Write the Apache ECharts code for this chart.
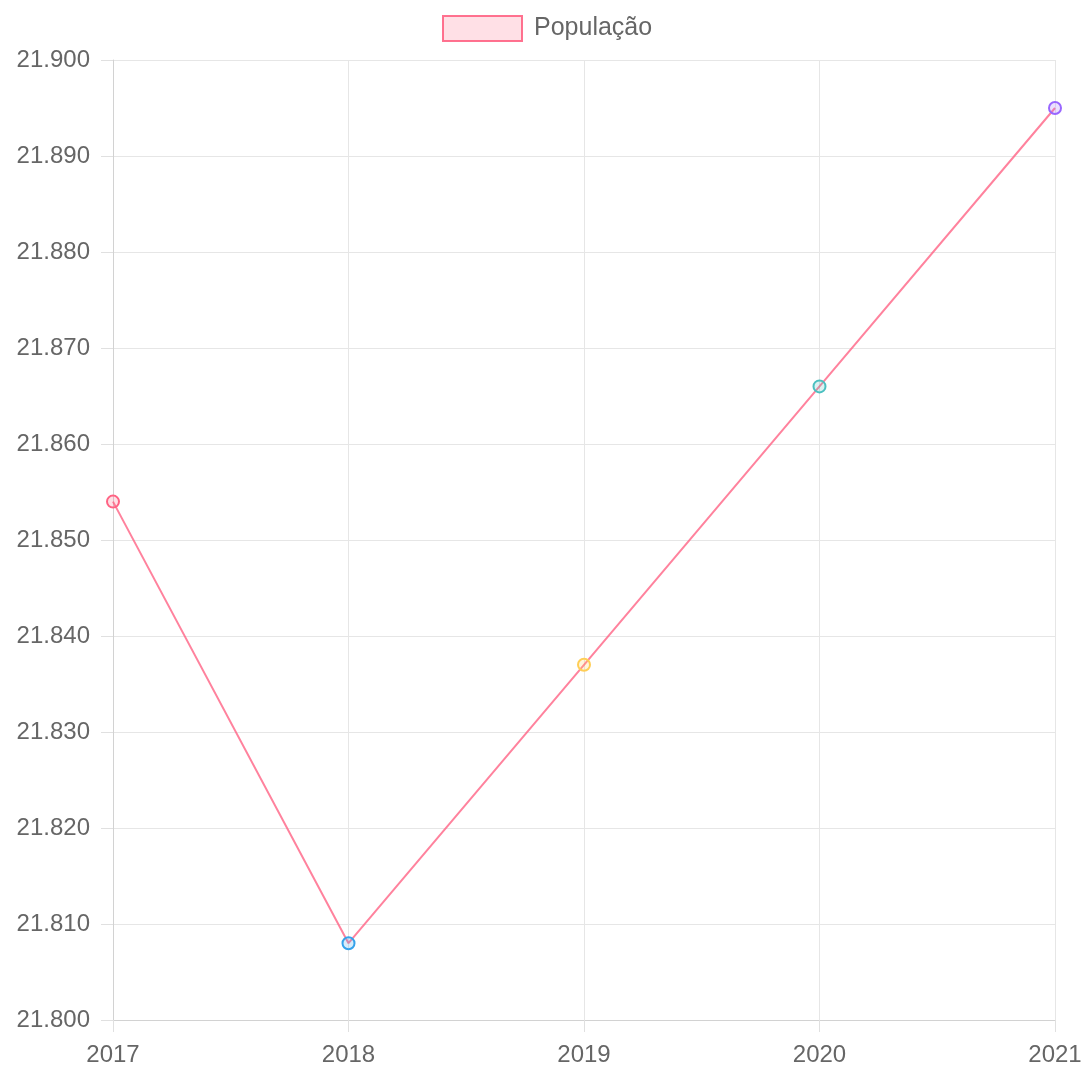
<!DOCTYPE html>
<html>
<head>
<meta charset="utf-8">
<script src="https://cdn.jsdelivr.net/npm/echarts@6/dist/echarts.min.js"></script>
<style>
html,body{margin:0;padding:0;background:#fff;}
#chart{width:1089px;height:1073px;}
</style>
</head>
<body>
<div id="chart"></div>
<script>
const categories = ['2017', '2018', '2019', '2020', '2021'];
const populacao = [21854, 21808, 21837, 21866, 21895];
const pointColors = ['255,99,132', '54,162,235', '255,206,86', '75,192,192', '153,102,255'];
const seriesName = 'População';

function fmt(v) {
  return String(Math.round(v)).replace(/\B(?=(\d{3})+(?!\d))/g, '.');
}

const chart = echarts.init(document.getElementById('chart'));
chart.setOption({
  animation: false,
  textStyle: { fontFamily: 'Liberation Sans, Arial, sans-serif' },
  legend: {
    top: 10,
    left: 437,
    itemWidth: 79,
    itemHeight: 25,
    itemGap: 10,
    textStyle: { color: '#666', fontSize: 25, padding: [0, 0, 0, 7] },
    data: [{
      name: seriesName,
      icon: 'rect',
      itemStyle: { color: 'rgba(255,99,132,0.2)', borderColor: 'rgba(255,99,132,0.9)', borderWidth: 2 },
      lineStyle: { width: 0 }
    }]
  },
  grid: { left: 113, right: 34, top: 60, bottom: 53, containLabel: false },
  xAxis: {
    type: 'category',
    data: categories,
    boundaryGap: false,
    axisLine: { lineStyle: { color: '#d2d2d2', width: 1 } },
    axisTick: { show: true, length: 12, lineStyle: { color: '#e0e0e0' } },
    axisLabel: { color: '#666', fontSize: 24, margin: 23 },
    splitLine: { show: true, lineStyle: { color: '#e6e6e6' } }
  },
  yAxis: {
    type: 'value',
    min: 21800,
    max: 21900,
    interval: 10,
    axisLine: { show: true, lineStyle: { color: '#d2d2d2', width: 1 } },
    axisTick: { show: true, length: 12, lineStyle: { color: '#e0e0e0' } },
    axisLabel: { color: '#666', fontSize: 24, margin: 23, formatter: fmt },
    splitLine: { show: true, lineStyle: { color: '#e6e6e6' } }
  },
  series: [{
    name: seriesName,
    type: 'line',
    data: populacao.map((v, i) => ({
      value: v,
      itemStyle: {
        color: 'rgba(' + pointColors[i] + ',0.2)',
        borderColor: 'rgb(' + pointColors[i] + ')',
        borderWidth: 2
      }
    })),
    symbol: 'circle',
    symbolSize: 12,
    lineStyle: { color: 'rgba(255,99,132,0.8)', width: 2 },
    itemStyle: { color: 'rgba(255,99,132,0.2)', borderColor: 'rgb(255,99,132)', borderWidth: 2 },
    z: 3
  }]
});
</script>
</body>
</html>
